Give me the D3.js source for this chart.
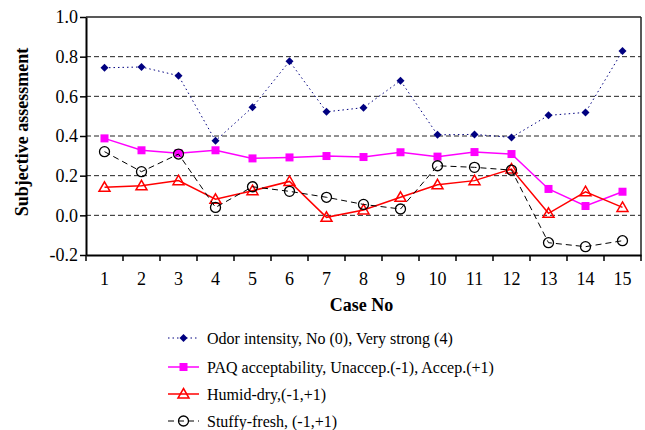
<!DOCTYPE html>
<html><head><meta charset="utf-8">
<script src="https://cdn.jsdelivr.net/npm/d3@7"></script>
<style>body{margin:0;background:#fff}svg{display:block}svg text{font-family:'Liberation Serif','Times New Roman',Times,'DejaVu Serif',serif !important}</style>
</head><body><svg id="c" width="645" height="430"></svg>
<script>
const cases = [1,2,3,4,5,6,7,8,9,10,11,12,13,14,15];
const odor   = [0.744,0.748,0.704,0.376,0.545,0.777,0.522,0.543,0.679,0.406,0.408,0.393,0.504,0.519,0.828];
const paq    = [0.388,0.328,0.313,0.328,0.287,0.292,0.299,0.294,0.318,0.296,0.319,0.309,0.133,0.047,0.119];
const humid  = [0.141,0.149,0.175,0.081,0.124,0.171,-0.010,0.027,0.091,0.154,0.175,0.233,0.010,0.119,0.040];
const stuffy = [0.321,0.220,0.309,0.040,0.144,0.121,0.091,0.055,0.032,0.250,0.242,0.228,-0.138,-0.158,-0.128];
const yTicks = [-0.2,0.0,0.2,0.4,0.6,0.8,1.0];
const seriesNames = ["Odor intensity, No (0), Very strong (4)","PAQ acceptability, Unaccep.(-1), Accep.(+1)","Humid-dry,(-1,+1)","Stuffy-fresh, (-1,+1)"];

const FONT = "Liberation Serif, Times New Roman, serif";
const svg = d3.select("#c").attr("font-family",FONT);
const L=86, R=641, T=17, B=255;
const x = d3.scaleBand().domain(cases).range([L,R]);
const y = d3.scaleLinear().domain([-0.2,1.0]).range([B,T]);

// gridlines
svg.append("g").selectAll("line").data(yTicks.filter(v=>v>-0.2&&v<1.0)).join("line")
  .attr("x1",L).attr("x2",R).attr("y1",d=>y(d)).attr("y2",d=>y(d))
  .attr("stroke","#222").attr("stroke-width",1).attr("stroke-dasharray","5,3");

// frame
svg.append("line").attr("x1",L).attr("x2",R).attr("y1",T).attr("y2",T).attr("stroke","#222").attr("stroke-width",1.5);
svg.append("line").attr("x1",R).attr("x2",R).attr("y1",T).attr("y2",B).attr("stroke","#222").attr("stroke-width",1.5);

// axes
const yAxis = svg.append("g").attr("transform",`translate(${L},0)`)
  .call(d3.axisLeft(y).tickValues(yTicks).tickFormat(d3.format(".1f")).tickSize(6).tickSizeOuter(0));
yAxis.attr("font-family",FONT);
yAxis.select(".domain").attr("stroke","#000").attr("stroke-width",2);
yAxis.selectAll(".tick line").attr("stroke","#000").attr("stroke-width",1.5);
yAxis.selectAll("text").attr("font-size",18).attr("fill","#000").attr("x",-8)
  .text(d=>d<0? "-"+Math.abs(d).toFixed(1) : d.toFixed(1));

const xAxis = svg.append("g").attr("transform",`translate(0,${B})`)
  .call(d3.axisBottom(x).tickSize(0).tickSizeOuter(0));
xAxis.attr("font-family",FONT);
xAxis.select(".domain").attr("stroke","#000").attr("stroke-width",2);
xAxis.selectAll("text").attr("font-size",18).attr("fill","#000").attr("dy",0).attr("y",30);
// category boundary ticks
const bounds = cases.map(c=>x(c)).concat([R]);
svg.append("g").selectAll("line").data(bounds).join("line")
  .attr("x1",d=>d).attr("x2",d=>d).attr("y1",B).attr("y2",B+6)
  .attr("stroke","#000").attr("stroke-width",1.5);

// titles
svg.append("text").attr("x",(L+R)/2-2).attr("y",311).attr("text-anchor","middle")
  .attr("font-size",18).attr("font-weight","bold").text("Case No");
svg.append("text").attr("transform",`translate(28,132) rotate(-90)`).attr("text-anchor","middle")
  .attr("font-size",18).attr("font-weight","bold").text("Subjective assessment");

const cx = c => x(c)+x.bandwidth()/2;
const line = vals => d3.line().x((d,i)=>cx(cases[i])).y(d=>y(d))(vals);

const styles = [
  {vals:odor, color:"#000080", w:1, dash:"1.5,3", marker:"diamond"},
  {vals:paq, color:"#ff00ff", w:1.5, dash:null, marker:"square"},
  {vals:humid, color:"#ff0000", w:1.5, dash:null, marker:"triangle"},
  {vals:stuffy, color:"#000", w:1, dash:"6,4", marker:"circle"}
];

function drawMarker(g, type, color, px, py){
  if(type==="diamond"){
    g.append("path").attr("d",`M${px},${py-4}L${px+4},${py}L${px},${py+4}L${px-4},${py}Z`)
     .attr("fill",color);
  } else if(type==="square"){
    g.append("rect").attr("x",px-4).attr("y",py-4).attr("width",8).attr("height",8).attr("fill",color);
  } else if(type==="triangle"){
    g.append("path").attr("d",`M${px},${py-5.5}L${px+5.5},${py+4}L${px-5.5},${py+4}Z`)
     .attr("fill","none").attr("stroke",color).attr("stroke-width",1.5);
  } else {
    g.append("circle").attr("cx",px).attr("cy",py).attr("r",5).attr("fill","none")
     .attr("stroke",color).attr("stroke-width",1.3);
  }
}

styles.forEach(s=>{
  const g = svg.append("g");
  g.append("path").attr("d",line(s.vals)).attr("fill","none").attr("stroke",s.color)
    .attr("stroke-width",s.w).attr("stroke-dasharray",s.dash);
  s.vals.forEach((v,i)=>drawMarker(g,s.marker,s.color,cx(cases[i]),y(v)));
});

// legend
const legY = [338,367,394,421];
styles.forEach((s,i)=>{
  const g = svg.append("g");
  g.append("line").attr("x1",168).attr("x2",199).attr("y1",legY[i]).attr("y2",legY[i])
    .attr("stroke",s.color).attr("stroke-width",s.w).attr("stroke-dasharray",s.dash);
  drawMarker(g,s.marker,s.color,183.5,legY[i]);
  g.append("text").attr("x",207).attr("y",legY[i]).attr("dy","0.35em").attr("font-size",16).text(seriesNames[i]);
});
</script></body></html>
